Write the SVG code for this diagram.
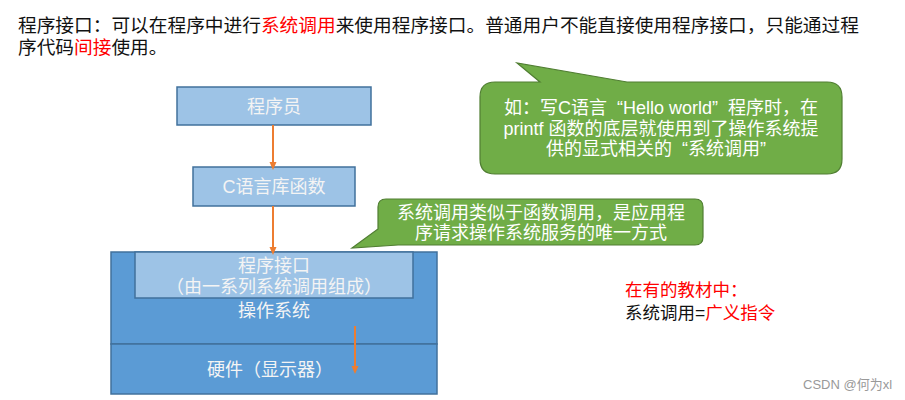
<svg xmlns="http://www.w3.org/2000/svg" width="905" height="400" viewBox="0 0 905 400">
<defs>
<style>
text{font-family:"Liberation Sans","Noto Sans CJK SC",sans-serif;}
.t{font-size:18.7px;fill:#111;}
.red{fill:#f00;}
.lt{fill:#9DC3E6;stroke:#41719C;stroke-width:1.5;}
.dk{fill:#5B9BD5;stroke:#41719C;stroke-width:1.5;}
.wt{font-size:18px;fill:#f4f4f4;text-anchor:middle;}
.gr{fill:#70AD47;stroke:#507E32;stroke-width:1.2;}
.gt{font-size:18px;fill:#fff;text-anchor:middle;}
.nt{font-size:17.5px;}
.ar{stroke:#ED7D31;stroke-width:2;fill:none;marker-end:url(#ah);}
</style>
<marker id="ah" markerWidth="8" markerHeight="8" refX="4" refY="4" orient="auto" markerUnits="userSpaceOnUse">
<path d="M0,0.5 L8,4 L0,7.5 Z" fill="#ED7D31"/>
</marker>
</defs>
<rect width="905" height="400" fill="#fff"/>
<g id="title">
<text class="t" x="18" y="32">程序接口：可以在程序中进行<tspan class="red">系统调用</tspan>来使用程序接口。普通用户不能直接使用程序接口，只能通过程</text>
<text class="t" x="18" y="54">序代码<tspan class="red">间接</tspan>使用。</text>
</g>
<g id="programmer">
<rect class="lt" x="177" y="87" width="194" height="38"/>
<text class="wt" x="274" y="113">程序员</text>
</g>
<g id="clib">
<rect class="lt" x="193" y="167" width="162" height="39"/>
<text class="wt" x="274" y="193">C语言库函数</text>
</g>
<g id="os">
<rect class="dk" x="111" y="252" width="326" height="92"/>
<text class="wt" x="274" y="317">操作系统</text>
</g>
<g id="api">
<rect class="lt" x="135" y="252" width="278" height="46"/>
<text class="wt" x="274" y="272">程序接口</text>
<text class="wt" x="274" y="293">（由一系列系统调用组成）</text>
</g>
<g id="hardware">
<rect class="dk" x="111" y="344" width="326" height="50"/>
<text class="wt" x="270" y="376">硬件（显示器）</text>
</g>
<g id="connectors">
<line class="ar" x1="273" y1="125" x2="273" y2="166"/>
<line class="ar" x1="273" y1="206" x2="273" y2="251"/>
<line class="ar" x1="355" y1="326" x2="355" y2="370"/>
</g>
<g id="callout1">
<path class="gr" d="M495,82 L540,82 L517,63 L627,82 L827,82 Q842,82 842,97 L842,159 Q842,174 827,174 L495,174 Q480,174 480,159 L480,97 Q480,82 495,82 Z"/>
<text class="gt" x="661" y="114" xml:space="preserve">如：写C语言  “Hello world”  程序时，在</text>
<text class="gt" x="661" y="135">printf 函数的底层就使用到了操作系统提</text>
<text class="gt" x="661" y="155" xml:space="preserve">供的显式相关的  “系统调用”  </text>
</g>
<g id="callout2">
<path class="gr" d="M386,199 L695,199 Q703,199 703,207 L703,237 Q703,245 695,245 L398,245 L352,248 L378,229 L378,207 Q378,199 386,199 Z"/>
<text class="gt" x="541" y="219">系统调用类似于函数调用，是应用程</text>
<text class="gt" x="541" y="239">序请求操作系统服务的唯一方式</text>
</g>
<g id="note">
<text class="t red nt" x="625" y="296">在有的教材中：</text>
<text class="t nt" x="625" y="319">系统调用=<tspan class="red">广义指令</tspan></text>
</g>
<text x="803" y="389" style="font-size:13px;fill:#999">CSDN @何为xl</text>
</svg>
